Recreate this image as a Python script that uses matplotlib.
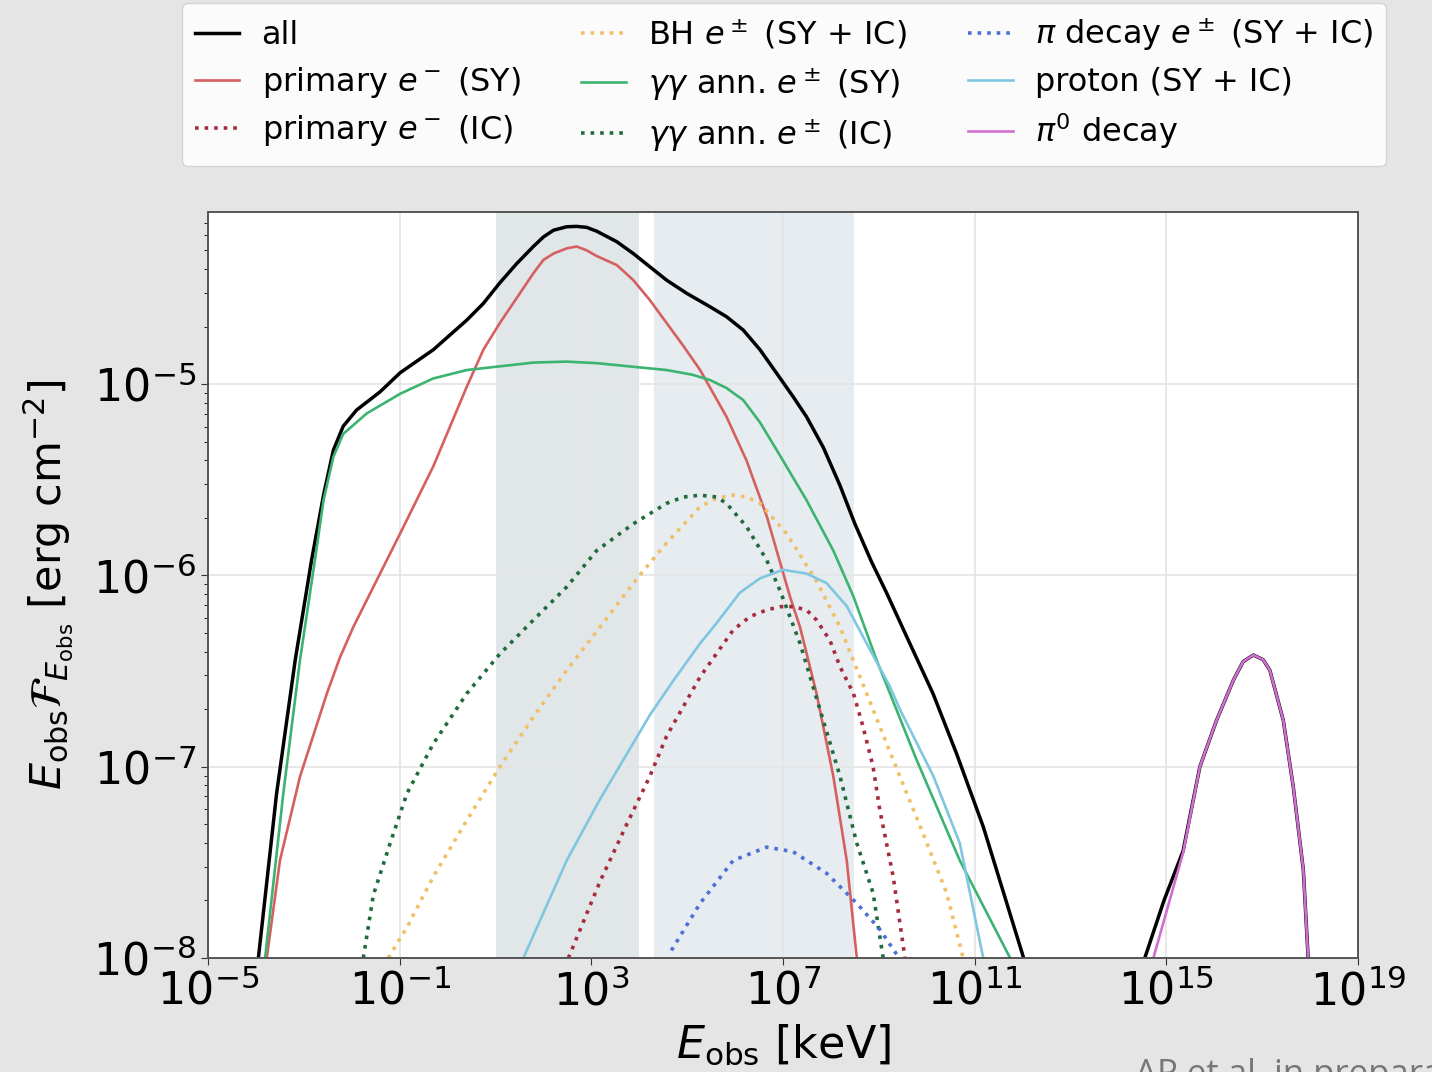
import numpy as np
import matplotlib
matplotlib.use("Agg")
import matplotlib.pyplot as plt
from matplotlib.ticker import LogLocator, NullLocator, NullFormatter

# values, as log10(E / keV) and log10(E F_E / erg cm^-2)
all_x = [-3.95, -3.57, -3.18, -2.84, -2.59, -2.385, -2.18, -1.90, -1.41, -0.99, -0.30, 0.40, 0.745,
         1.09, 1.44, 1.79, 2.0, 2.21, 2.485, 2.69, 2.90, 3.11, 3.53, 3.875, 4.22, 4.57, 4.99, 5.475,
         5.82, 6.17, 6.52, 6.87, 7.21, 7.49, 7.84, 8.19, 8.5, 8.85, 9.16, 9.6, 10.13, 10.62, 11.18,
         12.01]
all_y = [-8.0, -7.14, -6.44, -5.92, -5.58, -5.345, -5.22, -5.135, -5.04, -4.94, -4.82, -4.665, -4.578,
         -4.47, -4.37, -4.28, -4.23, -4.195, -4.177, -4.175, -4.18, -4.20, -4.255, -4.317, -4.386,
         -4.456, -4.525, -4.595, -4.647, -4.717, -4.82, -4.944, -5.065, -5.17, -5.33, -5.53, -5.73,
         -5.93, -6.09, -6.33, -6.617, -6.93, -7.314, -7.99]
all_hi_x = [14.55, 14.95, 15.35, 15.70, 16.05, 16.40, 16.605, 16.815, 17.02, 17.16, 17.44, 17.65,
            17.86, 17.96]
all_hi_y = [-8.0, -7.70, -7.44, -7.0, -6.756, -6.547, -6.45, -6.416, -6.44, -6.495, -6.756, -7.105,
            -7.54, -8.0]

prim_sy_x = [-3.775, -3.50, -3.08, -2.52, -2.25, -1.97, -0.99, -0.30, 0.40, 0.745, 1.09, 1.44, 1.79,
             2.0, 2.21, 2.485, 2.69, 2.90, 3.11, 3.53, 3.875, 4.22, 4.57, 4.92, 5.27, 5.82, 6.24,
             6.66, 7.145, 7.355, 7.70, 8.05, 8.33, 8.54]
prim_sy_y = [-8.0, -7.49, -7.05, -6.617, -6.43, -6.27, -5.78, -5.43, -5.013, -4.82, -4.68, -4.55,
             -4.42, -4.35, -4.317, -4.29, -4.28, -4.30, -4.33, -4.377, -4.456, -4.56, -4.68, -4.80,
             -4.926, -5.17, -5.40, -5.69, -6.11, -6.27, -6.617, -7.05, -7.49, -8.0]

prim_ic_x = [2.52, 3.18, 3.74, 4.22, 4.57, 5.27, 5.96, 6.31, 6.66, 6.94, 7.21, 7.49, 7.70, 7.98,
             8.19, 8.47, 8.67, 8.88, 9.02, 9.16, 9.30, 9.545]
prim_ic_y = [-8.0, -7.60, -7.30, -7.05, -6.84, -6.53, -6.285, -6.215, -6.18, -6.163, -6.163, -6.18,
             -6.233, -6.34, -6.477, -6.617, -6.79, -7.0, -7.226, -7.40, -7.575, -8.0]

bh_x = [-1.24, -0.85, -0.30, 0.40, 1.09, 1.79, 2.485, 3.18, 3.94, 4.57, 5.27, 5.615, 5.96, 6.24,
        6.52, 7.07, 7.70, 8.19, 8.745, 9.30, 9.86, 10.415, 10.76]
bh_y = [-8.0, -7.84, -7.575, -7.28, -7.0, -6.74, -6.495, -6.27, -6.02, -5.83, -5.64, -5.597, -5.58,
        -5.59, -5.623, -5.78, -6.03, -6.27, -6.617, -6.965, -7.31, -7.66, -8.0]

gg_sy_x = [-3.81, -3.43, -3.08, -2.77, -2.59, -2.385, -2.18, -1.69, -0.99, -0.30, 0.40, 1.79, 2.48,
           3.11, 4.57, 5.10, 5.475, 5.82, 6.17, 6.52, 6.87, 7.49, 8.05, 8.47, 8.95, 9.79, 10.69, 11.74]
gg_sy_y = [-8.0, -7.14, -6.44, -5.92, -5.606, -5.38, -5.26, -5.153, -5.05, -4.97, -4.926, -4.887,
           -4.882, -4.89, -4.926, -4.95, -4.978, -5.02, -5.083, -5.20, -5.345, -5.606, -5.87, -6.11,
           -6.44, -6.965, -7.49, -8.0]

gg_ic_x = [-1.76, -1.55, -1.20, -0.85, -0.30, 0.40, 1.09, 1.79, 2.485, 3.11, 3.875, 4.57, 4.92, 5.27,
           5.615, 5.82, 6.24, 6.66, 6.94, 7.355, 7.77, 8.19, 8.54, 8.88, 9.09]
gg_ic_y = [-8.0, -7.67, -7.40, -7.14, -6.88, -6.617, -6.41, -6.233, -6.06, -5.87, -5.73, -5.623,
           -5.59, -5.58, -5.59, -5.623, -5.745, -5.92, -6.08, -6.355, -6.70, -7.05, -7.40, -7.66, -8.0]

pi_ee_x = [4.67, 5.27, 5.96, 6.66, 7.21, 7.91, 8.54, 9.02, 9.37]
pi_ee_y = [-7.96, -7.714, -7.49, -7.42, -7.444, -7.557, -7.714, -7.85, -7.98]

proton_x = [1.58, 2.485, 3.18, 4.22, 4.71, 5.27, 5.61, 6.10, 6.52, 7.0, 7.49, 7.91, 8.33, 8.745,
            9.23, 9.44, 10.14, 10.69, 11.18]
proton_y = [-8.0, -7.49, -7.17, -6.73, -6.55, -6.355, -6.25, -6.09, -6.015, -5.97, -5.99, -6.04,
            -6.16, -6.355, -6.58, -6.70, -7.05, -7.40, -8.0]

pi0_x = [14.73, 15.35, 15.70, 16.05, 16.40, 16.605, 16.815, 17.02, 17.16, 17.44, 17.65, 17.86, 17.96]
pi0_y = [-8.0, -7.45, -7.0, -6.756, -6.547, -6.45, -6.416, -6.44, -6.495, -6.756, -7.105, -7.54, -8.0]

# instrument bands (keV)
band1 = (1e1, 1e4)
band2 = (2e4, 3e8)

bg = "#e5e5e5"
fig = plt.figure(figsize=(14.32, 10.72), dpi=100, facecolor=bg)
ax = fig.add_axes([0.1453, 0.1063, 0.803, 0.6959])

ax.axvspan(*band1, color="#e1e6e9", lw=0, zorder=0.5)
ax.axvspan(*band2, color="#e6ecef", lw=0, zorder=0.5)


def p(xs, ys, **kw):
    ax.plot(10 ** np.array(xs), 10 ** np.array(ys), solid_joinstyle="round", **kw)


dot = dict(ls=":", lw=2.6)
p(all_x, all_y, color="black", lw=2.5, label="all")
p(all_hi_x, all_hi_y, color="black", lw=2.5)
p(prim_sy_x, prim_sy_y, color="#d65f5f", lw=1.9, label=r"primary $e^-$ (SY)")
p(prim_ic_x, prim_ic_y, color="#a62b3c", label=r"primary $e^-$ (IC)", **dot)
p(bh_x, bh_y, color="#efc067", label=r"BH $e^\pm$ (SY + IC)", **dot)
p(gg_sy_x, gg_sy_y, color="#3cb371", lw=1.9, label=r"$\gamma\gamma$ ann. $e^\pm$ (SY)")
p(gg_ic_x, gg_ic_y, color="#1f6b3c", label=r"$\gamma\gamma$ ann. $e^\pm$ (IC)", **dot)
p(pi_ee_x, pi_ee_y, color="#4f6fd8", label=r"$\pi$ decay $e^\pm$ (SY + IC)", **dot)
p(proton_x, proton_y, color="#7fc6e0", lw=1.9, label="proton (SY + IC)")
p(pi0_x, pi0_y, color="#d26ed2", lw=1.9, label=r"$\pi^0$ decay")

ax.set_xscale("log")
ax.set_yscale("log")
ax.set_xlim(1e-5, 1e19)
ax.set_ylim(1e-8, 10 ** -4.1)
ax.set_xticks([10.0 ** k for k in range(-5, 20, 4)])
ax.xaxis.set_minor_locator(NullLocator())
ax.yaxis.set_major_locator(LogLocator(base=10, numticks=10))
ax.yaxis.set_minor_locator(LogLocator(base=10, subs=np.arange(2, 10), numticks=10))
ax.yaxis.set_minor_formatter(NullFormatter())
ax.grid(True, which="major", color="#e4e4e4", lw=1.2)
ax.tick_params(labelsize=32, colors="#333333", labelcolor="black")
ax.tick_params(which="major", length=5)
ax.tick_params(which="minor", length=3)
for s in ax.spines.values():
    s.set_color("#555555")
    s.set_linewidth(1.4)

ax.set_xlabel(r"$E_{\rm obs}$ [keV]", fontsize=32, labelpad=6)
ax.set_ylabel(r"$E_{\rm obs}\mathcal{F}_{E_{\rm obs}}$ [erg cm$^{-2}$]", fontsize=31, labelpad=13)

fig.legend(loc="upper center", bbox_to_anchor=(0.5475, 1.012), ncol=3, fontsize=23,
           handlelength=1.4, columnspacing=1.9, handletextpad=0.7, labelspacing=0.42,
           borderpad=0.4, edgecolor="#d0d0d0", framealpha=0.85)

fig.text(0.7925, 0.0135, "AP et al. in preparation", fontsize=25, color="#777777",
         family="Open Sans", va="top")

fig.savefig("out.png", dpi=100, facecolor=bg)
